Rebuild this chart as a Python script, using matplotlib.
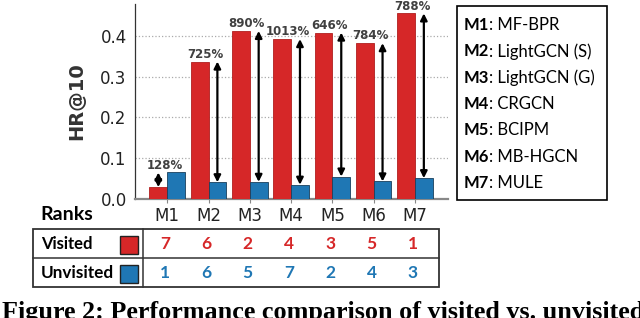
import numpy as np
import matplotlib
matplotlib.use("Agg")
import matplotlib.pyplot as plt
from matplotlib.patches import Rectangle
from matplotlib.lines import Line2D
import matplotlib.transforms as mtransforms

# data
models = ["M1", "M2", "M3", "M4", "M5", "M6", "M7"]
model_names = ["MF-BPR", "LightGCN (S)", "LightGCN (G)", "CRGCN", "BCIPM", "MB-HGCN", "MULE"]
visited = [0.029, 0.337, 0.412, 0.392, 0.408, 0.382, 0.455]
unvisited = [0.065, 0.041, 0.042, 0.035, 0.055, 0.043, 0.051]
gaps = ["128%", "725%", "890%", "1013%", "646%", "784%", "788%"]
rank_visited = [7, 6, 2, 4, 3, 5, 1]
rank_unvisited = [1, 6, 5, 7, 2, 4, 3]

RED = "#d62728"
BLUE = "#1f77b4"
W, H = 640, 318

def fx(x):
    return x / W

def fy(y):
    return 1 - y / H

fig = plt.figure(figsize=(6.4, 3.18), dpi=100)
ax = fig.add_axes([fx(135), fy(199), fx(448 - 135), (199 - 4) / H])

x = np.arange(len(models))
bw = 0.43
ax.bar(x - bw / 2, visited, bw, color=RED, edgecolor="#b01f1f", linewidth=0.6, zorder=3)
ax.bar(x + bw / 2, unvisited, bw, color=BLUE, edgecolor="#1a3f5c", linewidth=0.6, zorder=3)

for i in range(len(models)):
    v, u = visited[i], unvisited[i]
    ax_x = x[i] - bw / 2 if v < u else x[i] + bw / 2
    ax.annotate("", xy=(ax_x, v), xytext=(ax_x, u),
                arrowprops=dict(arrowstyle="<|-|>,head_length=0.4,head_width=0.2",
                                color="black", lw=1.6, shrinkA=0, shrinkB=0),
                zorder=4)
    ax.text(x[i] - 0.07, max(v, u) + 0.009, gaps[i], ha="center", va="baseline",
            fontsize=8.5, fontweight="bold", color="#404040", clip_on=False)

ax.set_xlim(-0.78, 6.8)
ax.set_ylim(0, 0.478)
ax.set_yticks([0.0, 0.1, 0.2, 0.3, 0.4])
ax.set_xticks(x)
ax.set_xticklabels(models)
ax.tick_params(axis="y", length=0, labelsize=12, pad=6, labelcolor="#222222")
ax.tick_params(axis="x", length=3, width=0.8, color="#888888", labelsize=12,
               pad=3, labelcolor="#222222")
ax.yaxis.grid(True, linestyle=":", color="#aaaaaa", linewidth=0.9, zorder=0)
ax.set_axisbelow(True)
for s in ["top", "right"]:
    ax.spines[s].set_visible(False)
ax.spines["left"].set_color("#333333")
ax.spines["left"].set_linewidth(0.9)
ax.spines["bottom"].set_color("#888888")
ax.spines["bottom"].set_linewidth(1.6)
ax.set_ylabel("HR@10", fontsize=14, fontweight="bold", color="#333333", labelpad=10)

# right-hand model key
fig.add_artist(Rectangle((fx(457), fy(200)), fx(607 - 457), (200 - 6) / H,
                         fill=False, edgecolor="black", linewidth=1.2))
for k, (m, name) in enumerate(zip(models, model_names)):
    yc = 25 + k * 26.3
    t = fig.text(fx(464), fy(yc), m, family="Lato", fontsize=12, fontweight="bold",
                 va="center", ha="left")
    ax.annotate(": " + name, xy=(1, 0.5), xycoords=t, va="center", ha="left",
                family="Lato", fontsize=12, annotation_clip=False)

# ranks table
fig.text(fx(40), fy(215), "Ranks", family="Lato", fontsize=14, fontweight="bold",
         va="center", ha="left")
fig.add_artist(Rectangle((fx(33), fy(287)), fx(439 - 33), (287 - 229) / H,
                         fill=False, edgecolor="#333333", linewidth=1.3))
fig.add_artist(Line2D([fx(33), fx(439)], [fy(258), fy(258)], color="#333333", linewidth=1.1))
fig.add_artist(Line2D([fx(143), fx(143)], [fy(229), fy(287)], color="#333333", linewidth=1.1))
fig.text(fx(41), fy(244), "Visited", family="Lato", fontsize=12, fontweight="bold",
         va="center", ha="left")
fig.text(fx(41), fy(273), "Unvisited", family="Lato", fontsize=12.3, fontweight="bold",
         va="center", ha="left")
fig.add_artist(Rectangle((fx(120), fy(254)), fx(18), 18 / H, facecolor=RED,
                         edgecolor="#222222", linewidth=1.0))
fig.add_artist(Rectangle((fx(120), fy(283)), fx(18), 18 / H, facecolor=BLUE,
                         edgecolor="#222222", linewidth=1.0))

trans = mtransforms.blended_transform_factory(ax.transData, fig.transFigure)
for i in range(len(models)):
    ax.text(x[i] - 0.05, fy(244), str(rank_visited[i]), transform=trans, ha="center",
            va="center", family="Lato", fontsize=12.5, fontweight="bold", color=RED,
            clip_on=False)
    ax.text(x[i] - 0.05, fy(273), str(rank_unvisited[i]), transform=trans, ha="center",
            va="center", family="Lato", fontsize=12.5, fontweight="bold", color=BLUE,
            clip_on=False)

fig.text(fx(2), fy(319.5), "Figure 2: Performance comparison of visited vs. unvisited",
         family="Liberation Serif", fontsize=18.8, fontweight="bold", va="baseline",
         ha="left")

fig.savefig("out.png", dpi=100)
